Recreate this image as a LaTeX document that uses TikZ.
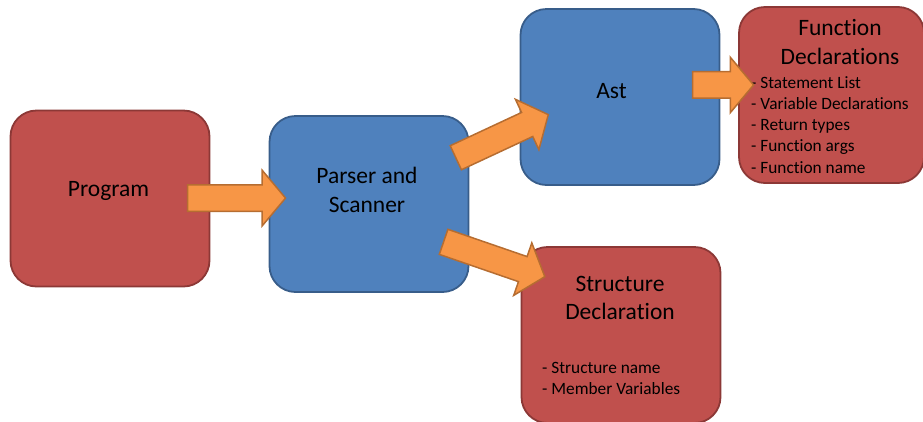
\documentclass[tikz,border=0pt]{standalone}
\usepackage{fontspec}
\setmainfont{Carlito}[RawFeature={-liga;-clig;-calt;-dlig}]
\usetikzlibrary{shapes.arrows}

\definecolor{boxred}{HTML}{C0504D}
\definecolor{boxredline}{HTML}{8C3836}
\definecolor{boxblue}{HTML}{4F81BD}
\definecolor{boxblueline}{HTML}{385D8A}
\definecolor{arrowfill}{HTML}{F79646}
\definecolor{arrowline}{HTML}{B66D31}

\begin{document}
\begin{tikzpicture}[x=1pt,y=-1pt,
redbox/.style={rectangle, draw=boxredline, line width=1.8pt, fill=boxred, rounded corners=26pt, minimum width=199pt, minimum height=176pt},
bluebox/.style={rectangle, draw=boxblueline, line width=1.8pt, fill=boxblue, rounded corners=26pt, minimum width=199pt, minimum height=176pt},
fatarrow/.style={single arrow, draw=arrowline, line width=1.5pt, fill=arrowfill, inner sep=0pt, inner ysep=12.5pt, single arrow head extend=14.5pt, single arrow tip angle=100, minimum height=#1},
head/.style={inner sep=0pt, align=center, font=\fontsize{23.5}{28.2}\selectfont},
list/.style={inner sep=0pt, align=left, anchor=west, font=\fontsize{17.3}{21.1}\selectfont}]

\useasboundingbox (0,0) rectangle (923,421);

\draw (110,198.5) node[redbox] (Prog) {};
\draw (369,204) node[bluebox] (Pars) {};
\draw (620,97) node[bluebox] (Ast) {};
\draw (831.5,95) node[redbox, minimum width=185pt] (FunDec) {};
\draw (621,335) node[redbox] (StrDec) {};

\draw (108.5,191) node[head] (tProg) {Program};
\draw (367,190) node[head] (tPars) {Parser and\\Scanner};
\draw (611.5,91.5) node[head] (tAst) {Ast};
\draw (840,42) node[head] (tFun) {Function\\Declarations};
\draw (751,125) node[list] (lFun) {- Statement List\\- Variable Declarations\\- Return types\\- Function args\\- Function name};
\draw (620,298) node[head] (tStr) {Structure\\Declaration};
\draw (542,378.5) node[list] (lStr) {- Structure name\\- Member Variables};

\path ([yshift=3pt]Prog.center) -- node[fatarrow=98pt, pos=.467] (a1) {} ([yshift=3pt]Pars.center);
\path ([yshift=10.9pt]Pars.center) -- node[fatarrow=102pt, pos=.51, rotate=25] (a2) {} ([yshift=10.9pt]Ast.center);
\path ([yshift=8.9pt]Pars.center) -- node[fatarrow=107pt, pos=.476, rotate=-19] (a3) {} ([yshift=8.9pt]StrDec.center);
\path ([yshift=11.1pt]Ast.center) -- node[fatarrow=61pt, pos=.461] (a4) {} ([yshift=11.1pt]FunDec.center);

\end{tikzpicture}
\end{document}
